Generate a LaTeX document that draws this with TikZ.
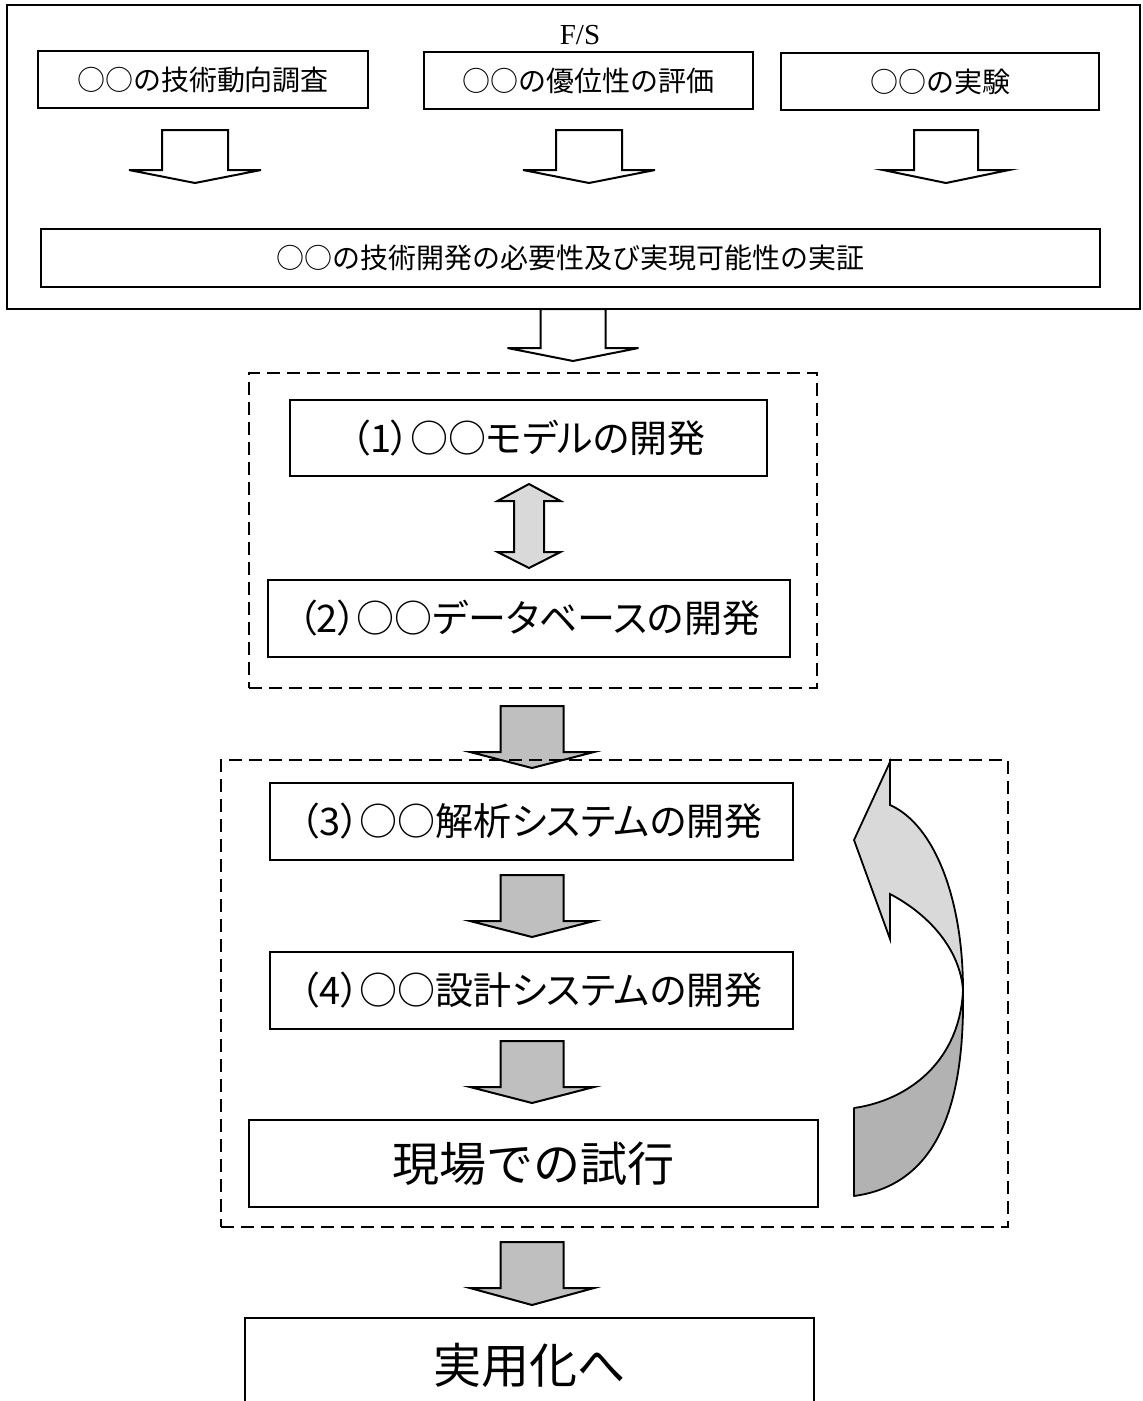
\documentclass[tikz,border=0pt]{standalone}
\usepackage{fontspec}
\newfontfamily\jp{Noto Sans CJK JP}
\newfontfamily\jpp{Noto Sans CJK JP}[RawFeature=+palt]
\newfontfamily\fsf{Liberation Serif}
\newcommand\bdown[7]{%
  \draw[#7] ({#1-#5},#2) -- ({#1+#5},#2) -- ({#1+#5},#3) -- ({#1+#6},#3) -- (#1,#4) -- ({#1-#6},#3) -- ({#1-#5},#3) -- cycle;}
\begin{document}
\begin{tikzpicture}[x=1pt,y=-1pt,
  box/.style={draw, line width=2pt, inner sep=0pt, fill=white},
  topbox/.style={box, minimum height=57pt, font=\jp\fontsize{28}{30}\selectfont},
  midbox/.style={box, minimum height=77pt, font=\jpp\fontsize{38}{40}\selectfont},
  bigbox/.style={box, font=\jp\fontsize{47}{50}\selectfont},
  dashbox/.style={draw, line width=2pt, dash pattern=on 13pt off 7pt, inner sep=0pt},
  hollow/.style={draw, line width=2pt, fill=white, line join=miter},
  grayarr/.style={draw, line width=2pt, fill=black!25, line join=miter}]
\useasboundingbox (0,0) rectangle (1143,1401);
\clip (0,0) rectangle (1143,1401);
\fill[white] (0,0) rectangle (1143,1401);

% ---- F/S section ----
\node[box, line width=2.5pt, minimum width=1133pt, minimum height=304pt] (outer) at (573.5,157) {};
\node[font=\fsf\fontsize{29}{30}\selectfont, inner sep=0pt] (fs) at (580,35) {F/S};
\node[topbox, minimum width=330pt] (b1) at (203,79.5) {○○の技術動向調査};
\node[topbox, minimum width=329pt] (b2) at (588.5,80.5) {○○の優位性の評価};
\node[topbox, minimum width=318pt] (b3) at (940,81.5) {○○の実験};
\node[topbox, minimum width=1059pt, minimum height=58pt] (wide) at (570.5,258) {○○の技術開発の必要性及び実現可能性の実証};

\bdown{195}{130}{170}{183}{33}{66}{hollow}
\bdown{589}{130}{170}{183}{33}{66}{hollow}
\bdown{946}{130}{170}{183}{32}{63}{hollow}
\bdown{573}{309}{348}{361}{32.5}{65.5}{hollow}

% ---- group 1 ----
\node[dashbox, minimum width=568pt, minimum height=315pt] (d1) at (533,530.5) {};
\node[midbox, minimum width=477pt, minimum height=76pt] (m1) at (528.5,438) {（1）○○モデルの開発};
\node[midbox, minimum width=522pt] (m2) at (529,618.5) {（2）○○データベースの開発};
\draw[draw, line width=2pt, fill=black!15, line join=miter]
  (529,484) -- (560.5,501) -- (544,501) -- (544,552) -- (560.5,552) -- (529,568)
  -- (497.5,552) -- (514,552) -- (514,501) -- (497.5,501) -- cycle;

\bdown{532}{706}{752}{768}{31.5}{62}{grayarr}

% ---- group 2 ----
\node[dashbox, minimum width=787pt, minimum height=467pt] (d2) at (614.5,993.5) {};
\node[midbox, minimum width=523pt] (m3) at (531.5,821.5) {（3）○○解析システムの開発};
\node[midbox, minimum width=523pt] (m4) at (531.5,990.5) {（4）○○設計システムの開発};
\node[bigbox, minimum width=569pt, minimum height=87pt] (trial) at (533.5,1163.5) {現場での試行};
\bdown{532}{875}{921}{937}{31.5}{62}{grayarr}
\bdown{532}{1041}{1087}{1103}{31.5}{62}{grayarr}

% curved return arrow
\draw[line width=1.8pt, fill=black!30, line join=round]
  (963,990) .. controls (960,1060) and (910,1100) .. (854,1108) -- (854,1196)
  .. controls (935,1185) and (965,1110) .. (963,990) -- cycle;
\draw[line width=1.8pt, fill=black!15, line join=miter]
  (890,762) -- (890,805) .. controls (935,825) and (963,900) .. (963,990)
  .. controls (960,950) and (930,915) .. (890,894) -- (890,939) -- (854,840) -- cycle;

\bdown{532}{1242}{1288}{1305}{31.5}{62}{grayarr}

% ---- final ----
\node[bigbox, font=\jp\fontsize{48}{50}\selectfont, minimum width=569pt, minimum height=94pt] (final) at (529.5,1365) {実用化へ};
\end{tikzpicture}
\end{document}
